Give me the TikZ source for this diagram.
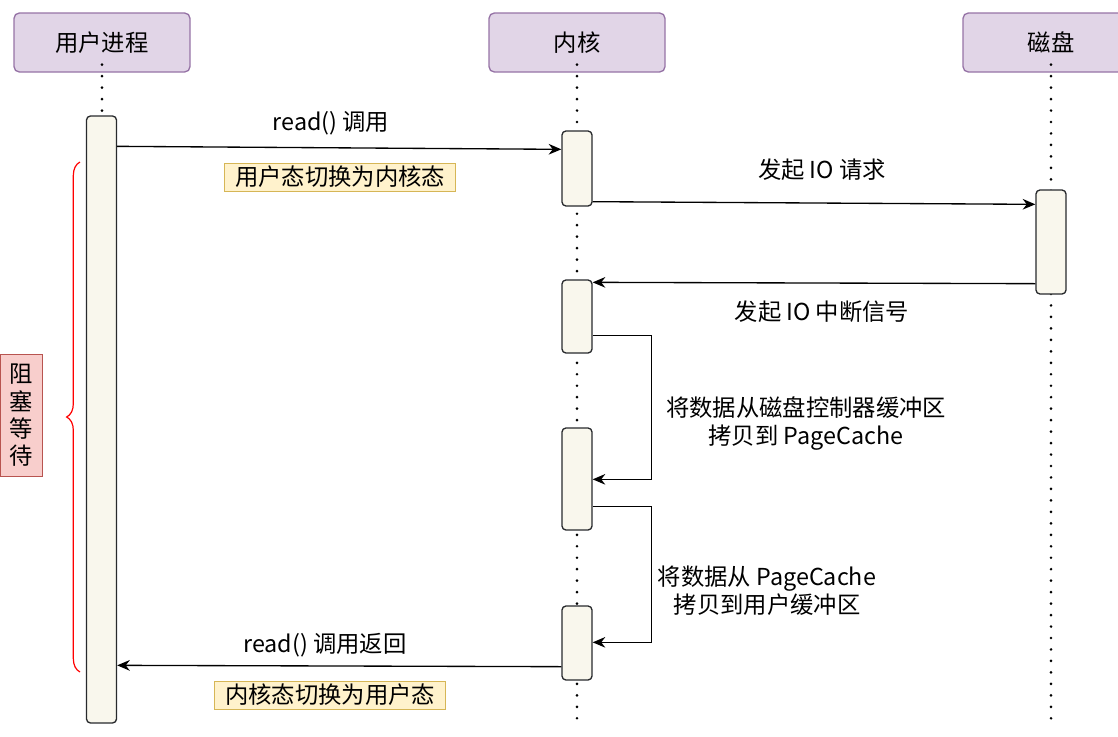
\documentclass[tikz,border=0pt]{standalone}
\usepackage{fontspec}
\setmainfont{Noto Sans CJK SC}
\usetikzlibrary{arrows.meta,calc,decorations.pathreplacing}

\definecolor{headfill}{RGB}{225,213,231}
\definecolor{headline}{RGB}{150,115,166}
\definecolor{actfill}{RGB}{249,247,237}
\definecolor{actline}{RGB}{40,42,45}
\definecolor{notefill}{RGB}{255,242,204}
\definecolor{noteline}{RGB}{214,182,86}
\definecolor{waitfill}{RGB}{248,206,204}
\definecolor{waitline}{RGB}{184,84,80}

\tikzset{
  head/.style={draw=headline, fill=headfill, line width=1pt, rounded corners=4pt,
    minimum width=132pt, minimum height=44.25pt, font=\fontsize{17.5}{21}\selectfont},
  act/.style={draw=actline, fill=actfill, line width=1pt, rounded corners=3pt,
    minimum width=22.5pt, inner sep=0pt},
  life/.style={line width=2.2pt, line cap=round, dash pattern=on 0pt off 8.6pt},
  msg/.style={line width=1pt, -{Stealth[length=9.5pt,width=8pt]}},
  lbl/.style={font=\fontsize{17.5}{21}\selectfont},
  note/.style={draw=noteline, fill=notefill, line width=0.7pt, inner xsep=8pt, inner ysep=2pt,
    minimum height=21pt, font=\fontsize{17.5}{21}\selectfont},
  wait/.style={draw=waitline, fill=waitfill, line width=0.7pt, align=center, inner sep=1pt,
    minimum width=32pt, minimum height=91pt, font=\fontsize{17.5}{20.5}\selectfont},
  waitbrace/.style={draw=red, line width=0.9pt, decorate, decoration={brace, amplitude=10pt}},
}

\begin{document}
\begin{tikzpicture}[x=0.75pt,y=0.75pt,yscale=-1,xscale=1]
\useasboundingbox (0,0) rectangle (1118,736);

% lifeline heads
\node[head] (user) at (102,42.5) {用户进程};
\node[head] (kernel) at (577,42.5) {内核};
\node[head] (disk) at (1051,42.5) {磁盘};

% lifelines
\draw[life] ([yshift=-6pt]user.south) -- ++(0,664);
\draw[life] ([yshift=-6pt]kernel.south) -- ++(0,664);
\draw[life] ([yshift=-6pt]disk.south) -- ++(0,664);

% activations
\node[act, minimum height=455.25pt] (ua) at (101.5,419.5) {};
\node[act, minimum height=56.25pt] (k1) at (577,168.5) {};
\node[act, minimum height=78pt] (da) at (1051,242) {};
\node[act, minimum height=54.75pt] (k2) at (577,316.5) {};
\node[act, minimum height=76.5pt] (k3) at (577,479) {};
\node[act, minimum height=55.5pt] (k4) at (577,643) {};

% messages
\draw[msg] ($(ua.north east)+(0,31)$) -- ($(k1.north west)+(0,19)$);
\draw[msg] ($(k1.south east)+(0,-5)$) -- ($(da.north west)+(0,15)$);
\draw[msg] ($(da.south west)+(0,-11)$) -- ($(k2.north east)+(0,3)$);
\draw[msg] ($(k2.south east)+(0,-18)$) -- ++(59,0) |- ($(k3.north east)+(0,52)$);
\draw[msg] ($(k3.south east)+(0,-24)$) -- ++(59,0) |- ($(k4.north east)+(0,37)$);
\draw[msg] ($(k4.south west)+(0,-14)$) -- ($(ua.north east)+(0,550)$);

% labels
\node[lbl] (read) at (331,123) {read() 调用};
\node[lbl] (ioreq) at (822,170) {发起 IO 请求};
\node[lbl] (ioirq) at (822,312) {发起 IO 中断信号};
\node[lbl, align=center] (copy1) at (806,423) {将数据从磁盘控制器缓冲区\\拷贝到 PageCache};
\node[lbl, align=center] (copy2) at (767,591) {将数据从 PageCache\\拷贝到用户缓冲区};
\node[lbl] (ret) at (325,645) {read() 调用返回};

% mode switch notes
\node[note] (tokernel) at (340,177) {用户态切换为内核态};
\node[note] (touser) at (330,695) {内核态切换为用户态};

% blocking
\draw[waitbrace] (80,672) -- (80,162);
\node[wait] (wait) at (21.5,415.5) {阻\\塞\\等\\待};

\end{tikzpicture}
\end{document}
